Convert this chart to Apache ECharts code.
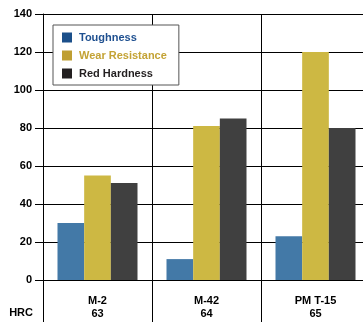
<!DOCTYPE html>
<html>
<head>
<meta charset="utf-8">
<script src="https://cdn.jsdelivr.net/npm/echarts@6/dist/echarts.min.js"></script>
<style>
  html, body { margin: 0; padding: 0; background: #fff; }
  #chart { width: 363px; height: 322px; }
</style>
</head>
<body>
<div id="chart"></div>
<script>
var steels = ["M-2", "M-42", "PM T-15"];
var hrc = ["63", "64", "65"];
var toughness = [30, 11, 23];
var wearResistance = [55, 81, 120];
var redHardness = [51, 85, 80];

var fontFam = '"Liberation Sans", Arial, Helvetica, sans-serif';

var myChart = echarts.init(document.getElementById('chart'));

var option = {
    animation: false,
    backgroundColor: '#fff',
    textStyle: { fontFamily: fontFam },
    grid: [
        { left: 43, width: 327, top: 14, bottom: 42, outerBoundsMode: 'none', containLabel: false },
        { left: 43, width: 327, top: 280, bottom: 0, outerBoundsMode: 'none', containLabel: false }
    ],
    legend: {
        orient: 'vertical',
        left: 53,
        top: 25,
        padding: [6, 12, 5, 9],
        itemWidth: 10,
        itemHeight: 10,
        itemGap: 5,
        icon: 'rect',
        selectedMode: false,
        backgroundColor: '#fff',
        borderColor: '#555',
        borderWidth: 1,
        textStyle: { fontSize: 11, fontWeight: 'bold', lineHeight: 13, fontFamily: fontFam, padding: [0, 0, 0, 2] },
        data: [
            { name: 'Toughness', itemStyle: { color: '#1b4f8a' }, textStyle: { color: '#1f5090' } },
            { name: 'Wear Resistance', itemStyle: { color: '#bf9f33' }, textStyle: { color: '#c4a335' } },
            { name: 'Red Hardness', itemStyle: { color: '#231f20' }, textStyle: { color: '#231f20' } }
        ]
    },
    xAxis: [
        {
            type: 'category',
            gridIndex: 0,
            data: steels,
            axisLine: { lineStyle: { color: '#000', width: 1 } },
            axisTick: { show: false },
            splitLine: { show: true, lineStyle: { color: '#000', width: 1 } },
            axisLabel: {
                margin: 14,
                fontSize: 11,
                fontWeight: 'bold',
                color: '#000',
                lineHeight: 13,
                fontFamily: fontFam,
                formatter: function (v, i) { return v + '\n' + hrc[i]; }
            }
        },
        {
            type: 'category',
            gridIndex: 1,
            data: steels,
            axisLine: { show: false },
            axisTick: { show: false },
            axisLabel: { show: false },
            splitLine: { show: true, lineStyle: { color: '#000', width: 1 } }
        }
    ],
    yAxis: [
        {
            type: 'value',
            gridIndex: 0,
            min: 0,
            max: 140,
            interval: 20,
            axisLine: { show: true, lineStyle: { color: '#000', width: 1 } },
            axisTick: { show: true, length: 8, lineStyle: { color: '#000', width: 1 } },
            splitLine: { show: true, lineStyle: { color: '#000', width: 1 } },
            axisLabel: { margin: 11, fontSize: 11, fontWeight: 'bold', color: '#000', fontFamily: fontFam }
        },
        {
            type: 'value',
            gridIndex: 1,
            axisLine: { show: true, lineStyle: { color: '#000', width: 1 } },
            axisTick: { show: false },
            axisLabel: { show: false },
            splitLine: { show: false }
        }
    ],
    graphic: [
        {
            type: 'text',
            right: 330,
            top: 307,
            style: { text: 'HRC', fontSize: 11, fontWeight: 'bold', fill: '#000', fontFamily: fontFam }
        }
    ],
    series: [
        {
            name: 'Toughness', type: 'bar', data: toughness,
            barGap: '0%', barCategoryGap: '26.6%',
            itemStyle: { color: '#4379a7' }
        },
        {
            name: 'Wear Resistance', type: 'bar', data: wearResistance,
            barGap: '0%', barCategoryGap: '26.6%',
            itemStyle: { color: '#cdb843' }
        },
        {
            name: 'Red Hardness', type: 'bar', data: redHardness,
            barGap: '0%', barCategoryGap: '26.6%',
            itemStyle: { color: '#404040' }
        }
    ]
};

myChart.setOption(option);
</script>
</body>
</html>
